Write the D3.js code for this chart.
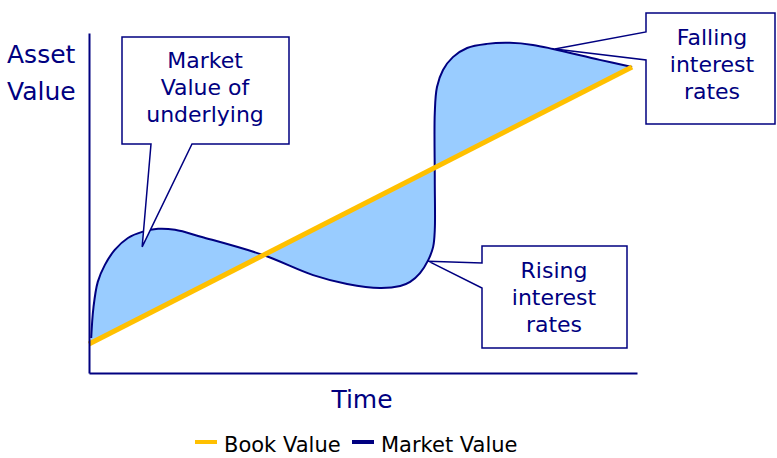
<!DOCTYPE html>
<html>
<head>
<meta charset="utf-8">
<script src="https://cdn.jsdelivr.net/npm/d3@7"></script>
<style>
  body { margin: 0; background: #fff; }
  svg { display: block; font-family: "DejaVu Sans", "Open Sans", sans-serif; }
</style>
</head>
<body>
<div id="chart"></div>
<script>
// Series values (time 0-100, value 0-100)
const bookTime = [0, 99.1];
const bookValue = [8.5, 90.0];

const marketTime = [0.4, 0.8, 1.6, 2.9, 4.7, 7.1, 9.7, 12.6, 15.7, 20.6, 31.8, 40.9, 47.1, 53.1, 56.8,
	58.6, 60.4, 61.9, 62.8, 63.1, 63.1, 63.1, 63.5, 64.6, 66.4, 69.0, 72.6, 76.8, 81.0, 84.7, 93.2, 99.1];
const marketValue = [10.3, 19.1, 26.8, 31.8, 36.2, 39.7, 41.5, 42.4, 42.1, 40.0, 34.7, 28.8, 26.2, 25.0, 25.6,
	26.8, 29.4, 33.2, 37.1, 42.1, 56.8, 76.5, 84.1, 89.1, 92.9, 95.6, 96.8, 97.1, 96.5, 95.3, 92.1, 90.0];

// Callout texts and where they point (data coords)
const calloutLines = [
	['Market', 'Value of', 'underlying'],
	['Falling', 'interest', 'rates'],
	['Rising', 'interest', 'rates']
];
const calloutTipTime = [9.7, 85.0, 61.9];
const calloutTipValue = [37.1, 95.3, 32.9];

const legendNames = ['Book Value', 'Market Value'];

const width = 777, height = 458;
const navy = '#000080',
	gold = '#FFC000',
	fillBlue = '#99CCFF';

const svg = d3.select('#chart').append('svg')
	.attr('width', width)
	.attr('height', height);

const x = d3.scaleLinear().domain([0, 100]).range([89, 637]);
const y = d3.scaleLinear().domain([0, 100]).range([373, 33]);

const book = bookTime.map((t, i) => ({t: t, v: bookValue[i]}));
const market = marketTime.map((t, i) => ({t: t, v: marketValue[i]}));

const line = d3.line()
	.x(d => x(d.t))
	.y(d => y(d.v))
	.curve(d3.curveCatmullRom.alpha(0.5));

const straight = d3.line()
	.x(d => x(d.t))
	.y(d => y(d.v));

// Area between market and book values
const back = book.slice().reverse();
svg.append('path')
	.attr('d', line(market) + straight(back).replace(/^M/, 'L') + 'Z')
	.style('fill', fillBlue)
	.style('stroke', 'none');

svg.append('path')
	.attr('d', line(market))
	.style('fill', 'none')
	.style('stroke', navy)
	.style('stroke-width', 2);

svg.append('path')
	.attr('d', straight(book))
	.style('fill', 'none')
	.style('stroke', gold)
	.style('stroke-width', 5);

// Axes: just the domain lines
svg.append('g')
	.attr('transform', `translate(0,${y(0)})`)
	.call(d3.axisBottom(x).ticks(0).tickSizeOuter(0))
	.call(g => g.select('.domain').style('stroke', navy).style('stroke-width', 2));

svg.append('g')
	.attr('transform', `translate(${x(0)},0)`)
	.call(d3.axisLeft(y).ticks(0).tickSizeOuter(0))
	.call(g => g.select('.domain').style('stroke', navy).style('stroke-width', 2));

// Axis titles
svg.append('text')
	.attr('x', 7).attr('y', 63)
	.style('font-size', '25px').style('fill', navy)
	.text('Asset');
svg.append('text')
	.attr('x', 7).attr('y', 100)
	.style('font-size', '25px').style('fill', navy)
	.text('Value');
svg.append('text')
	.attr('x', 362).attr('y', 408)
	.attr('text-anchor', 'middle')
	.style('font-size', '25px').style('fill', navy)
	.text('Time');

// Callout boxes: [left, top, right, bottom], tail base on a side
const boxes = [
	{l: 122, t: 37, r: 289, b: 144, side: 'bottom', a: 192, c: 151},
	{l: 646, t: 13, r: 775, b: 124, side: 'left', a: 60, c: 32},
	{l: 482, t: 246, r: 627, b: 348, side: 'left', a: 288, c: 263}
];

boxes.forEach((bx, i) => {
	const tx = x(calloutTipTime[i]), ty = y(calloutTipValue[i]);
	const p = d3.path();
	p.moveTo(bx.l, bx.t);
	p.lineTo(bx.r, bx.t);
	p.lineTo(bx.r, bx.b);
	if (bx.side === 'bottom') {
		p.lineTo(bx.a, bx.b);
		p.lineTo(tx, ty);
		p.lineTo(bx.c, bx.b);
		p.lineTo(bx.l, bx.b);
	} else {
		p.lineTo(bx.l, bx.b);
		p.lineTo(bx.l, bx.a);
		p.lineTo(tx, ty);
		p.lineTo(bx.l, bx.c);
	}
	p.closePath();
	svg.append('path')
		.attr('d', p.toString())
		.style('fill', '#fff')
		.style('stroke', navy)
		.style('stroke-width', 1.5)
		.style('stroke-linejoin', 'miter');

	const firstBase = [68, 45, 278][i];
	const cx = [205, 712, 554][i];
	svg.append('g').selectAll('text')
		.data(calloutLines[i])
		.enter()
		.append('text')
			.attr('x', cx)
			.attr('y', (d, j) => firstBase + j * 27)
			.attr('text-anchor', 'middle')
			.style('font-size', '22px')
			.style('fill', navy)
			.text(d => d);
});

// Legend
const legend = svg.append('g');
const legendX = [195, 352];
legendNames.forEach((name, i) => {
	legend.append('line')
		.attr('x1', legendX[i]).attr('x2', legendX[i] + 22)
		.attr('y1', 442).attr('y2', 442)
		.style('stroke', i === 0 ? gold : navy)
		.style('stroke-width', 4);
	legend.append('text')
		.attr('x', legendX[i] + 29).attr('y', 452)
		.style('font-size', '21px')
		.style('fill', '#000')
		.text(name);
});
</script>
</body>
</html>
